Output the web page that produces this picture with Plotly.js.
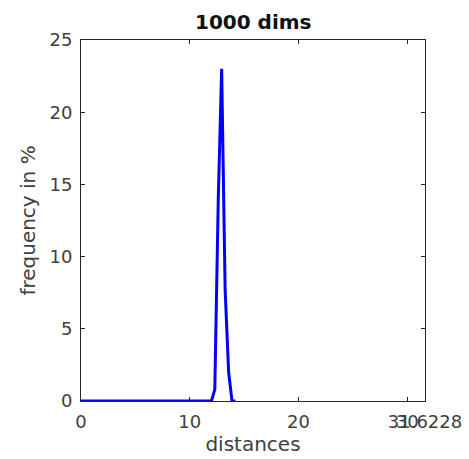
<!DOCTYPE html>
<html>
<head>
<meta charset="utf-8">
<script src="https://cdn.plot.ly/plotly-3.0.1.min.js"></script>
<style>html,body{margin:0;padding:0;background:#fff;}#plot{width:469px;height:459px;}</style>
</head>
<body>
<div id="plot"></div>
<script>
// Data
const distances = [0, 11.99, 12.30, 12.62, 12.93, 13.25, 13.57, 13.88, 14.2];
const frequency = [0, 0, 0.8, 14.0, 23.0, 7.7, 2.0, 0, 0];
const xTickVals = [0, 10, 20, 30, 31.6228];
const xTickText = ['0', '10', '20', '30', '31.6228'];
const yTickVals = [0, 5, 10, 15, 20, 25];
const titleText = '1000 dims';
const xTitle = 'distances';
const yTitle = 'frequency in %';

const font = 'DejaVu Sans, Verdana, sans-serif';
const axisCommon = {
  showline: true, linecolor: '#262626', linewidth: 1, mirror: 'ticks',
  ticks: 'inside', ticklen: 4, tickcolor: '#262626', tickwidth: 1,
  showgrid: false, zeroline: false,
  tickfont: {family: font, size: 18, color: '#404040'}
};

Plotly.newPlot('plot', [{
  x: distances, y: frequency, type: 'scatter', mode: 'lines',
  line: {color: '#0000ff', width: 3}, cliponaxis: false, hoverinfo: 'skip'
}], {
  width: 469, height: 459,
  margin: {l: 81, r: 44, t: 40, b: 58, pad: 0},
  paper_bgcolor: '#fff', plot_bgcolor: '#fff',
  showlegend: false,
  title: {text: '<b>' + titleText + '</b>', x: 0.54, xanchor: 'center', y: 0.952, yanchor: 'middle',
          font: {family: font, size: 20, color: '#111'}},
  xaxis: Object.assign({}, axisCommon, {
    range: [0, 31.6228], tickmode: 'array', tickvals: xTickVals, ticktext: xTickText, tickangle: 0,
    ticklabelstandoff: 4,
    title: {text: xTitle, standoff: 0, font: {family: font, size: 20, color: '#404040'}}
  }),
  yaxis: Object.assign({}, axisCommon, {
    range: [0, 25], tickmode: 'array', tickvals: yTickVals,
    ticklabelstandoff: 4,
    title: {text: yTitle, standoff: 8, font: {family: font, size: 20, color: '#404040'}}
  })
}, {staticPlot: true});
</script>
</body>
</html>
